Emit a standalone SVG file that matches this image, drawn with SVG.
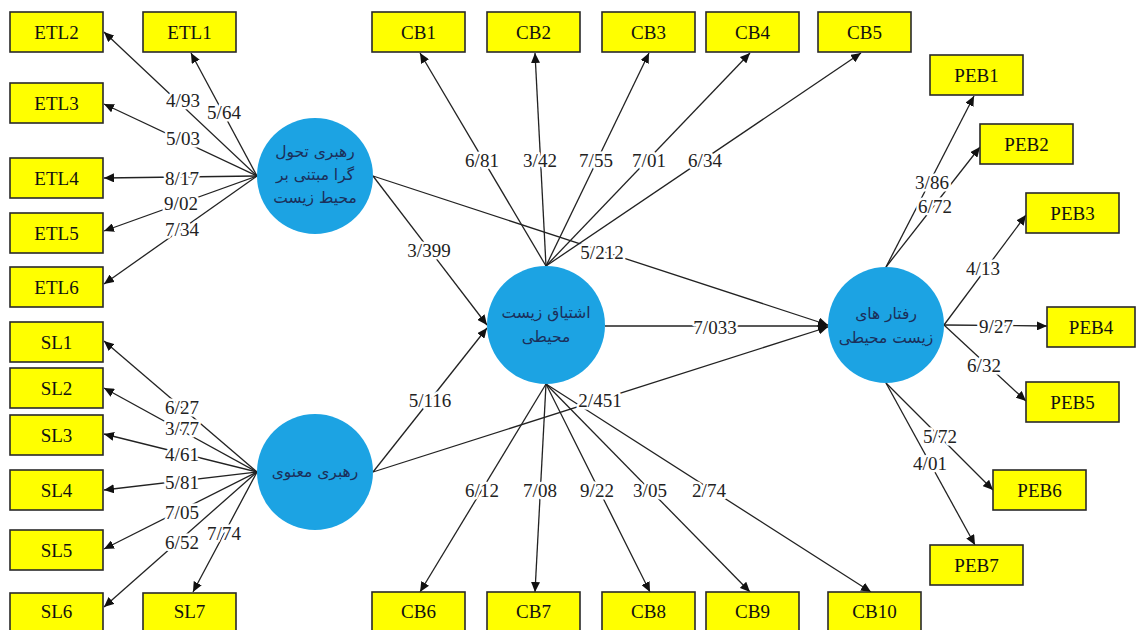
<svg xmlns="http://www.w3.org/2000/svg" width="1136" height="630" viewBox="0 0 1136 630">
<style>
.box{fill:#ffff00;stroke:#2a2a2a;stroke-width:1.6}
.bt{font-family:"Liberation Serif",serif;font-size:19px;fill:#111;text-anchor:middle;dominant-baseline:central}
.cir{fill:#1ca3e3}
.ct{font-family:"DejaVu Sans",sans-serif;font-size:15.5px;fill:#1b2f5a;text-anchor:middle;dominant-baseline:central}
.ln{stroke:#222;stroke-width:1.3;fill:none;marker-end:url(#ah)}
.lb{font-family:"Liberation Serif",serif;font-size:19px;fill:#222;text-anchor:middle;dominant-baseline:central;stroke:#fff;stroke-width:5;paint-order:stroke;stroke-linejoin:round}
</style>
<defs>
<marker id="ah" markerUnits="userSpaceOnUse" markerWidth="11" markerHeight="9" refX="10" refY="4.5" orient="auto">
<path d="M0,0 L10,4.5 L0,9 z" fill="#111"/>
</marker>
</defs>
<rect width="1136" height="630" fill="#fff"/>
<g id="connectors">
<line class="ln" x1="257" y1="176" x2="104" y2="32"/>
<line class="ln" x1="257" y1="176" x2="191" y2="53"/>
<line class="ln" x1="257" y1="176" x2="104" y2="104"/>
<line class="ln" x1="257" y1="176" x2="104" y2="178"/>
<line class="ln" x1="257" y1="176" x2="104" y2="231"/>
<line class="ln" x1="257" y1="176" x2="104" y2="284"/>
<line class="ln" x1="257" y1="472" x2="104" y2="341"/>
<line class="ln" x1="257" y1="472" x2="104" y2="388"/>
<line class="ln" x1="257" y1="472" x2="104" y2="434"/>
<line class="ln" x1="257" y1="472" x2="104" y2="490"/>
<line class="ln" x1="257" y1="472" x2="104" y2="549"/>
<line class="ln" x1="257" y1="472" x2="104" y2="607"/>
<line class="ln" x1="257" y1="472" x2="193" y2="592"/>
<line class="ln" x1="373" y1="176" x2="487" y2="325"/>
<line class="ln" x1="373" y1="176" x2="828" y2="325"/>
<line class="ln" x1="373" y1="472" x2="487" y2="328"/>
<line class="ln" x1="373" y1="472" x2="828" y2="327"/>
<line class="ln" x1="605" y1="326" x2="828" y2="326"/>
<line class="ln" x1="546" y1="266" x2="420" y2="53"/>
<line class="ln" x1="546" y1="266" x2="535" y2="53"/>
<line class="ln" x1="546" y1="266" x2="649" y2="53"/>
<line class="ln" x1="546" y1="266" x2="750" y2="53"/>
<line class="ln" x1="546" y1="266" x2="861" y2="53"/>
<line class="ln" x1="546" y1="384" x2="420" y2="592"/>
<line class="ln" x1="546" y1="384" x2="535" y2="592"/>
<line class="ln" x1="546" y1="384" x2="650" y2="592"/>
<line class="ln" x1="546" y1="384" x2="750" y2="592"/>
<line class="ln" x1="546" y1="384" x2="871" y2="592"/>
<line class="ln" x1="886" y1="267" x2="974" y2="96"/>
<line class="ln" x1="886" y1="267" x2="980" y2="147"/>
<line class="ln" x1="944" y1="325" x2="1026" y2="215"/>
<line class="ln" x1="944" y1="325" x2="1047" y2="326"/>
<line class="ln" x1="944" y1="325" x2="1026" y2="401"/>
<line class="ln" x1="886" y1="383" x2="993" y2="490"/>
<line class="ln" x1="886" y1="383" x2="975" y2="545"/>
<text class="lb" x="183" y="100">4/93</text>
<text class="lb" x="224" y="112">5/64</text>
<text class="lb" x="183" y="138">5/03</text>
<text class="lb" x="182" y="178">8/17</text>
<text class="lb" x="181" y="203">9/02</text>
<text class="lb" x="182" y="229">7/34</text>
<text class="lb" x="182" y="407">6/27</text>
<text class="lb" x="182" y="428">3/77</text>
<text class="lb" x="182" y="454">4/61</text>
<text class="lb" x="182" y="482">5/81</text>
<text class="lb" x="182" y="512">7/05</text>
<text class="lb" x="182" y="542">6/52</text>
<text class="lb" x="224" y="533">7/74</text>
<text class="lb" x="429" y="250">3/399</text>
<text class="lb" x="602" y="252">5/212</text>
<text class="lb" x="430" y="400">5/116</text>
<text class="lb" x="600" y="400">2/451</text>
<text class="lb" x="715" y="327">7/033</text>
<text class="lb" x="482" y="160">6/81</text>
<text class="lb" x="540" y="160">3/42</text>
<text class="lb" x="596" y="160">7/55</text>
<text class="lb" x="649" y="160">7/01</text>
<text class="lb" x="705" y="160">6/34</text>
<text class="lb" x="482" y="490">6/12</text>
<text class="lb" x="540" y="490">7/08</text>
<text class="lb" x="597" y="490">9/22</text>
<text class="lb" x="650" y="490">3/05</text>
<text class="lb" x="709" y="490">2/74</text>
<text class="lb" x="932" y="182">3/86</text>
<text class="lb" x="935" y="206">6/72</text>
<text class="lb" x="983" y="268">4/13</text>
<text class="lb" x="996" y="326">9/27</text>
<text class="lb" x="984" y="365">6/32</text>
<text class="lb" x="940" y="436">5/72</text>
<text class="lb" x="930" y="463">4/01</text>
</g>
<g id="c-etl"><circle class="cir" cx="315" cy="176" r="58"/><text class="ct" x="315" y="152">رهبری تحول</text><text class="ct" x="315" y="175">گرا مبتنی بر</text><text class="ct" x="315" y="198">محیط زیست</text></g>
<g id="c-sl"><circle class="cir" cx="315" cy="472" r="58"/><text class="ct" x="315" y="472">رهبری معنوی</text></g>
<g id="c-cb"><circle class="cir" cx="546" cy="325" r="59"/><text class="ct" x="546" y="313">اشتیاق زیست</text><text class="ct" x="546" y="337">محیطی</text></g>
<g id="c-peb"><circle class="cir" cx="886" cy="325" r="58"/><text class="ct" x="886" y="314">رفتار های</text><text class="ct" x="886" y="338">زیست محیطی</text></g>
<g id="ETL2"><rect class="box" x="10" y="12" width="93" height="40"/><text class="bt" x="56.5" y="32">ETL2</text></g>
<g id="ETL1"><rect class="box" x="143" y="12" width="93" height="40"/><text class="bt" x="189.5" y="32">ETL1</text></g>
<g id="ETL3"><rect class="box" x="10" y="83" width="93" height="40"/><text class="bt" x="56.5" y="103">ETL3</text></g>
<g id="ETL4"><rect class="box" x="10" y="158" width="93" height="40"/><text class="bt" x="56.5" y="178">ETL4</text></g>
<g id="ETL5"><rect class="box" x="10" y="213" width="93" height="40"/><text class="bt" x="56.5" y="233">ETL5</text></g>
<g id="ETL6"><rect class="box" x="10" y="267" width="93" height="40"/><text class="bt" x="56.5" y="287">ETL6</text></g>
<g id="SL1"><rect class="box" x="10" y="322" width="93" height="40"/><text class="bt" x="56.5" y="342">SL1</text></g>
<g id="SL2"><rect class="box" x="10" y="368" width="93" height="40"/><text class="bt" x="56.5" y="388">SL2</text></g>
<g id="SL3"><rect class="box" x="10" y="415" width="93" height="40"/><text class="bt" x="56.5" y="435">SL3</text></g>
<g id="SL4"><rect class="box" x="10" y="470" width="93" height="40"/><text class="bt" x="56.5" y="490">SL4</text></g>
<g id="SL5"><rect class="box" x="10" y="530" width="93" height="40"/><text class="bt" x="56.5" y="550">SL5</text></g>
<g id="SL6"><rect class="box" x="10" y="593" width="93" height="40"/><text class="bt" x="56.5" y="611">SL6</text></g>
<g id="SL7"><rect class="box" x="143" y="593" width="93" height="40"/><text class="bt" x="189.5" y="611">SL7</text></g>
<g id="CB1"><rect class="box" x="372" y="12" width="93" height="40"/><text class="bt" x="418.5" y="32">CB1</text></g>
<g id="CB2"><rect class="box" x="487" y="12" width="93" height="40"/><text class="bt" x="533.5" y="32">CB2</text></g>
<g id="CB3"><rect class="box" x="602" y="12" width="93" height="40"/><text class="bt" x="648.5" y="32">CB3</text></g>
<g id="CB4"><rect class="box" x="706" y="12" width="93" height="40"/><text class="bt" x="752.5" y="32">CB4</text></g>
<g id="CB5"><rect class="box" x="818" y="12" width="93" height="40"/><text class="bt" x="864.5" y="32">CB5</text></g>
<g id="CB6"><rect class="box" x="372" y="592" width="93" height="40"/><text class="bt" x="418.5" y="611">CB6</text></g>
<g id="CB7"><rect class="box" x="487" y="592" width="93" height="40"/><text class="bt" x="533.5" y="611">CB7</text></g>
<g id="CB8"><rect class="box" x="602" y="592" width="93" height="40"/><text class="bt" x="648.5" y="611">CB8</text></g>
<g id="CB9"><rect class="box" x="706" y="592" width="93" height="40"/><text class="bt" x="752.5" y="611">CB9</text></g>
<g id="CB10"><rect class="box" x="828" y="592" width="93" height="40"/><text class="bt" x="874.5" y="611">CB10</text></g>
<g id="PEB1"><rect class="box" x="930" y="55" width="93" height="40"/><text class="bt" x="976.5" y="75">PEB1</text></g>
<g id="PEB2"><rect class="box" x="980" y="124" width="93" height="40"/><text class="bt" x="1026.5" y="144">PEB2</text></g>
<g id="PEB3"><rect class="box" x="1026" y="193" width="93" height="40"/><text class="bt" x="1072.5" y="213">PEB3</text></g>
<g id="PEB4"><rect class="box" x="1047" y="307" width="88" height="40"/><text class="bt" x="1091" y="327">PEB4</text></g>
<g id="PEB5"><rect class="box" x="1026" y="382" width="93" height="40"/><text class="bt" x="1072.5" y="402">PEB5</text></g>
<g id="PEB6"><rect class="box" x="993" y="470" width="93" height="40"/><text class="bt" x="1039.5" y="490">PEB6</text></g>
<g id="PEB7"><rect class="box" x="930" y="545" width="93" height="40"/><text class="bt" x="976.5" y="565">PEB7</text></g>
</svg>
